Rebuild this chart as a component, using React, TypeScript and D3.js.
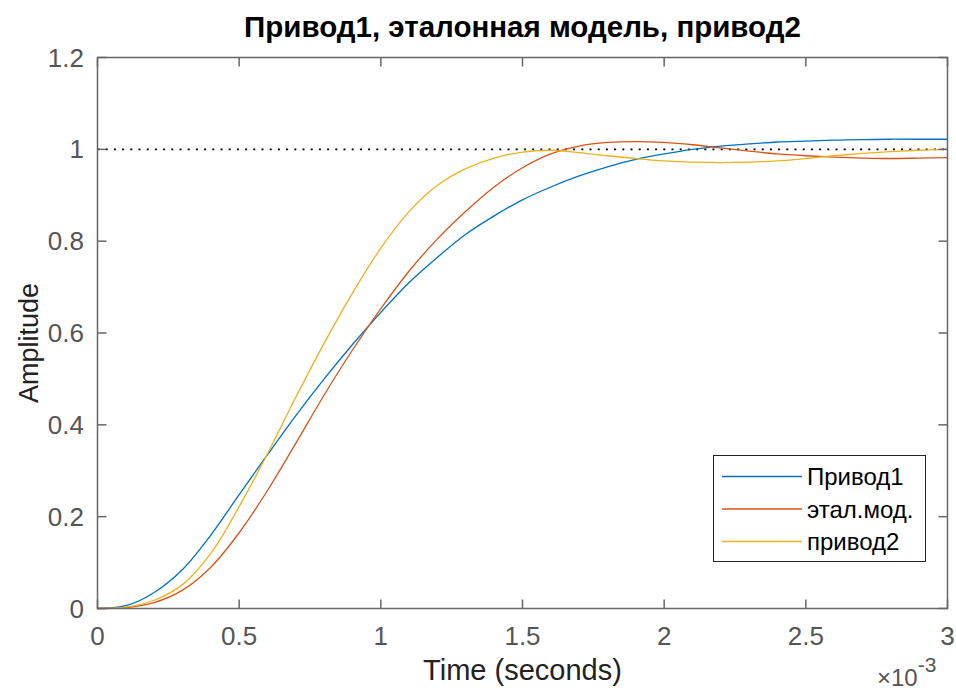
import React from "react";
import * as d3 from "d3";

const timeMs = [0, 0.1, 0.2, 0.3, 0.4, 0.5, 0.6, 0.7, 0.8, 0.9, 1.0, 1.1, 1.2, 1.3, 1.4, 1.5, 1.6, 1.7, 1.8, 1.9, 2.0, 2.1, 2.2, 2.3, 2.4, 2.5, 2.6, 2.7, 2.8, 2.9, 3.0];
const privod1 = [0, 0.006, 0.035, 0.085, 0.16, 0.248, 0.335, 0.42, 0.5, 0.575, 0.645, 0.71, 0.765, 0.815, 0.855, 0.89, 0.918, 0.942, 0.962, 0.978, 0.99, 1.0, 1.007, 1.012, 1.016, 1.018, 1.02, 1.021, 1.022, 1.022, 1.022];
const etalon = [0, 0.002, 0.013, 0.04, 0.09, 0.165, 0.257, 0.36, 0.465, 0.563, 0.653, 0.735, 0.805, 0.865, 0.918, 0.96, 0.99, 1.007, 1.015, 1.017, 1.015, 1.01, 1.003, 0.996, 0.99, 0.986, 0.983, 0.981, 0.98, 0.981, 0.982];
const privod2 = [0, 0.003, 0.018, 0.052, 0.12, 0.222, 0.337, 0.46, 0.578, 0.687, 0.785, 0.865, 0.922, 0.958, 0.981, 0.994, 0.998, 0.993, 0.986, 0.98, 0.975, 0.972, 0.971, 0.972, 0.975, 0.98, 0.986, 0.991, 0.995, 0.998, 1.0];

const seriesNames = ["Привод1", "этал.мод.", "привод2"];
const seriesColors = ["#0072BD", "#D95319", "#EDB120"];
const xTicks = [0, 0.5, 1, 1.5, 2, 2.5, 3];
const yTicks = [0, 0.2, 0.4, 0.6, 0.8, 1, 1.2];
const title = "Привод1, эталонная модель, привод2";
const xLabel = "Time (seconds)";
const yLabel = "Amplitude";

const W = 956, H = 691;
const L = 97.5, R = 947.5, T = 57.5, B = 608.5;
const font = "'Liberation Sans', Arial, sans-serif";

export default function App() {
  const x = d3.scaleLinear().domain([0, 3]).range([L, R]);
  const y = d3.scaleLinear().domain([0, 1.2]).range([B, T]);
  const allSeries = [privod1, etalon, privod2];
  const line = d3.line<number>().x((_, i) => x(timeMs[i])).y((d) => y(d)).curve(d3.curveCatmullRom.alpha(0.5));
  const axisColor = "#666666";
  const tickLen = 9;
  const legX = 713.5, legY = 455.5, legW = 212, legH = 106;
  return (
    <svg width={W} height={H} style={{ position: "absolute", left: 0, top: 0, background: "#fff" }}>
      <rect x={0} y={0} width={W} height={H} fill="#fff" />
      <text x={(L + R) / 2} y={37} textAnchor="middle" fontFamily={font} fontWeight="bold" fontSize={29.5} fill="#000">{title}</text>
      <line x1={x(0)} x2={x(3)} y1={y(1)} y2={y(1)} stroke="#000" strokeWidth={1.8} strokeDasharray="2 6.2" />
      {allSeries.map((s, i) => (
        <path key={i} d={line(s) || ""} fill="none" stroke={seriesColors[i]} strokeWidth={1.3} />
      ))}
      <rect x={L} y={T} width={R - L} height={B - T} fill="none" stroke={axisColor} strokeWidth={1.5} />
      {xTicks.map((t) => (
        <g key={"x" + t}>
          <line x1={x(t)} x2={x(t)} y1={B} y2={B - tickLen} stroke={axisColor} strokeWidth={1.5} />
          <line x1={x(t)} x2={x(t)} y1={T} y2={T + tickLen} stroke={axisColor} strokeWidth={1.5} />
          <text x={x(t)} y={645} textAnchor="middle" fontFamily={font} fontSize={26} fill="#555">{String(t)}</text>
        </g>
      ))}
      {yTicks.map((t) => (
        <g key={"y" + t}>
          <line x1={L} x2={L + tickLen} y1={y(t)} y2={y(t)} stroke={axisColor} strokeWidth={1.5} />
          <line x1={R} x2={R - tickLen} y1={y(t)} y2={y(t)} stroke={axisColor} strokeWidth={1.5} />
          <text x={84} y={y(t) + 9} textAnchor="end" fontFamily={font} fontSize={26} fill="#555">{String(t)}</text>
        </g>
      ))}
      <text x={(L + R) / 2} y={680} textAnchor="middle" fontFamily={font} fontSize={29} fill="#222">{xLabel}</text>
      <text transform={`translate(38,${(T + B) / 2 + 10}) rotate(-90)`} textAnchor="middle" fontFamily={font} fontSize={27} fill="#222">{yLabel}</text>
      <text x={877} y={686} fontFamily={font} fontSize={24} fill="#555">×10<tspan dy={-14} fontSize={21}>-3</tspan></text>
      <rect x={legX} y={legY} width={legW} height={legH} fill="#fff" stroke="#222" strokeWidth={1} />
      {seriesNames.map((n, i) => (
        <g key={n}>
          <line x1={722} x2={802} y1={476.5 + i * 32.5} y2={476.5 + i * 32.5} stroke={seriesColors[i]} strokeWidth={1.3} />
          <text x={807} y={485 + i * 32.5} fontFamily={font} fontSize={24} fill="#000">{n}</text>
        </g>
      ))}
    </svg>
  );
}
